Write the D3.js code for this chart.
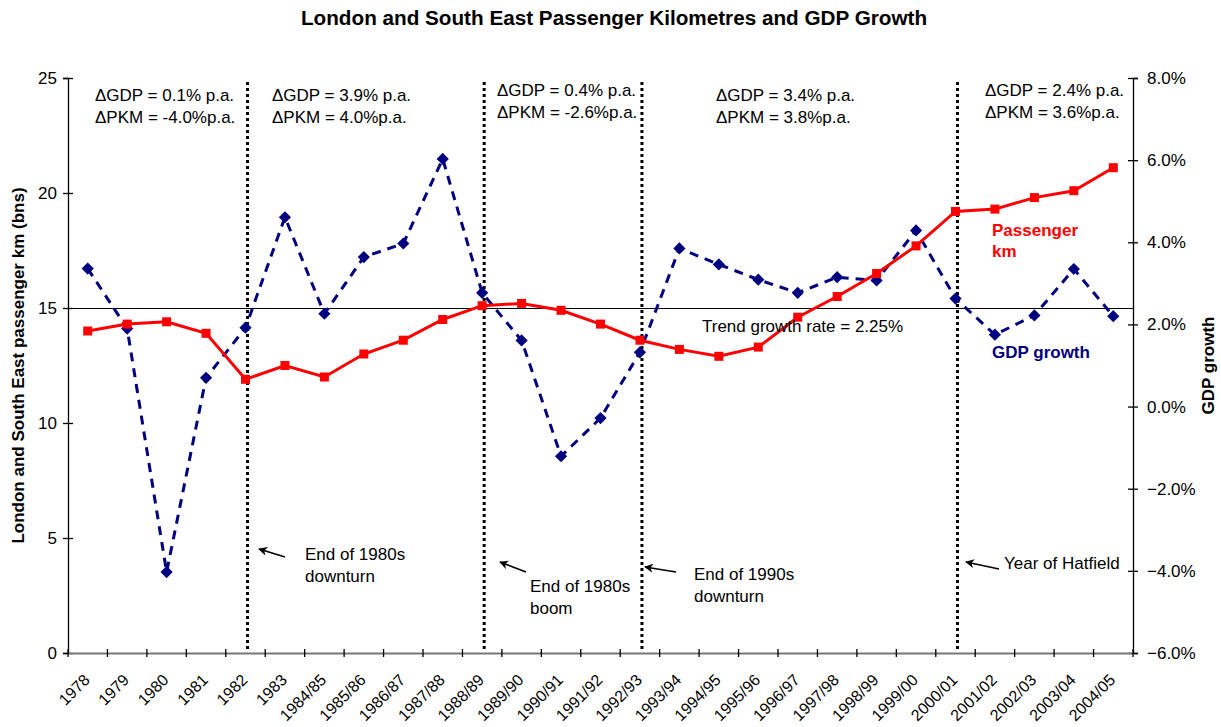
<!DOCTYPE html>
<html>
<head>
<meta charset="utf-8">
<script src="https://cdn.jsdelivr.net/npm/d3@7/dist/d3.min.js"></script>
<style>
  html, body { margin: 0; padding: 0; background: #fff; }
  svg { display: block; }
  text { font-family: "Liberation Sans", Arial, sans-serif; fill: #000; }
</style>
</head>
<body>
<svg id="chart" width="1221" height="727"></svg>
<script>
// ---- Data ----
const categories = ["1978","1979","1980","1981","1982","1983","1984/85","1985/86","1986/87","1987/88",
  "1988/89","1989/90","1990/91","1991/92","1992/93","1993/94","1994/95","1995/96","1996/97","1997/98",
  "1998/99","1999/00","2000/01","2001/02","2002/03","2003/04","2004/05"];
const passengerKm = [14.0,14.3,14.4,13.9,11.9,12.5,12.0,13.0,13.6,14.5,15.1,15.2,14.9,14.3,13.6,13.2,12.9,13.3,14.6,15.5,16.5,17.7,19.2,19.3,19.8,20.1,21.1];
const gdpGrowth = [3.36,1.90,-4.03,0.70,1.92,4.61,2.26,3.64,3.97,6.03,2.77,1.61,-1.21,-0.28,1.32,3.85,3.46,3.09,2.77,3.15,3.07,4.29,2.63,1.75,2.22,3.35,2.20];
const leftTicks = [0,5,10,15,20,25];
const rightTicks = [-6,-4,-2,0,2,4,6,8];
const trendLevel = 15;
const eventCategories = ["1982","1988/89","1992/93","2000/01"];
const periodNotes = [
  ["ΔGDP = 0.1% p.a.", "ΔPKM = -4.0%p.a."],
  ["ΔGDP = 3.9% p.a.", "ΔPKM = 4.0%p.a."],
  ["ΔGDP = 0.4% p.a.", "ΔPKM = -2.6%p.a."],
  ["ΔGDP = 3.4% p.a.", "ΔPKM = 3.8%p.a."],
  ["ΔGDP = 2.4% p.a.", "ΔPKM = 3.6%p.a."]
];
const eventNotes = [
  ["End of 1980s", "downturn"],
  ["End of 1980s", "boom"],
  ["End of 1990s", "downturn"],
  ["Year of Hatfield"]
];

// ---- Layout ----
const svg = d3.select("#chart");
const L = 68, R = 1133, T = 78, B = 653;
const FS = 17;

const x = d3.scaleBand().domain(categories).range([L, R]).padding(0);
const cx = c => x(c) + x.bandwidth() / 2;
const yL = d3.scaleLinear().domain([0, 25]).range([B, T]);
const yR = d3.scaleLinear().domain([-6, 8]).range([B, T]);

svg.append("defs").append("marker")
  .attr("id", "arrow").attr("viewBox", "0 0 10 10")
  .attr("refX", 9).attr("refY", 5)
  .attr("markerWidth", 9).attr("markerHeight", 9)
  .attr("markerUnits", "userSpaceOnUse")
  .attr("orient", "auto")
  .append("path").attr("d", "M0,0 L10,5 L0,10 L3,5 Z").attr("fill", "#000");

// Title
svg.append("text").attr("x", 614).attr("y", 25).attr("text-anchor", "middle")
  .attr("font-size", 20.7).attr("font-weight", "bold")
  .text("London and South East Passenger Kilometres and GDP Growth");

// Trend line
svg.append("line").attr("x1", L).attr("x2", R)
  .attr("y1", yL(trendLevel)).attr("y2", yL(trendLevel))
  .attr("stroke", "#000").attr("stroke-width", 1)
  .attr("shape-rendering", "crispEdges");

// Event vertical dotted lines
svg.append("g").selectAll("line").data(eventCategories).join("line")
  .attr("x1", d => cx(d) + 2).attr("x2", d => cx(d) + 2)
  .attr("y1", 82).attr("y2", 651)
  .attr("stroke", "#000").attr("stroke-width", 3)
  .attr("stroke-dasharray", "3,3");

// Axes
const axL = svg.append("g").attr("transform", `translate(${L},0)`)
  .call(d3.axisLeft(yL).tickValues(leftTicks).tickSize(5).tickFormat(d3.format("d")));
const axR = svg.append("g").attr("transform", `translate(${R},0)`)
  .call(d3.axisRight(yR).tickValues(rightTicks).tickSize(5).tickFormat(d => d3.format(".1f")(d) + "%"));
const axB = svg.append("g").attr("transform", `translate(0,${B})`)
  .call(d3.axisBottom(x).tickSize(0).tickFormat(""));

[axL, axR].forEach(a => {
  a.select(".domain").attr("stroke", "#000").attr("stroke-width", 1.3);
  a.selectAll(".tick line").attr("stroke", "#000").attr("stroke-width", 1.3);
  a.selectAll("text").attr("font-size", FS).attr("fill", "#000")
    .attr("font-family", "Liberation Sans, Arial, sans-serif");
});
axL.selectAll(".tick line").attr("x1", 5).attr("x2", -5);
axL.selectAll(".tick text").attr("x", -11);
axR.selectAll(".tick line").attr("x1", -5).attr("x2", 5);
axR.selectAll(".tick text").attr("x", 14);

axB.select(".domain").attr("stroke", "#777").attr("stroke-width", 2);
// category boundary ticks
const bounds = categories.map(c => x(c)).concat([R]);
axB.append("g").selectAll("line").data(bounds).join("line")
  .attr("x1", d => d).attr("x2", d => d).attr("y1", -4).attr("y2", 4)
  .attr("stroke", "#000").attr("stroke-width", 1.3);
// category labels
axB.append("g").selectAll("text").data(categories).join("text")
  .attr("transform", d => `translate(${cx(d) + 3},28) rotate(-45)`)
  .attr("text-anchor", "end").attr("font-size", 16)
  .text(d => d);

// Axis titles
svg.append("text").attr("transform", `translate(24,${(T + B) / 2}) rotate(-90)`)
  .attr("text-anchor", "middle").attr("font-size", FS).attr("font-weight", "bold")
  .text("London and South East passenger km (bns)");
svg.append("text").attr("transform", `translate(1214,${(T + B) / 2}) rotate(-90)`)
  .attr("text-anchor", "middle").attr("font-size", FS).attr("font-weight", "bold")
  .text("GDP growth");

// GDP series (navy dashed, diamonds)
const gdpData = categories.map((c, i) => ({ c, v: gdpGrowth[i] }));
svg.append("path").datum(gdpData)
  .attr("d", d3.line().x(d => cx(d.c)).y(d => yR(d.v)))
  .attr("fill", "none").attr("stroke", "#000080").attr("stroke-width", 3)
  .attr("stroke-dasharray", "9,7");
svg.append("g").selectAll("path").data(gdpData).join("path")
  .attr("transform", d => `translate(${cx(d.c)},${yR(d.v)})`)
  .attr("d", d3.symbol().type(d3.symbolDiamond2).size(95))
  .attr("fill", "#000080");

// Passenger km series (red, squares)
const pkmData = categories.map((c, i) => ({ c, v: passengerKm[i] }));
svg.append("path").datum(pkmData)
  .attr("d", d3.line().x(d => cx(d.c)).y(d => yL(d.v)))
  .attr("fill", "none").attr("stroke", "#FF0000").attr("stroke-width", 3);
svg.append("g").selectAll("rect").data(pkmData).join("rect")
  .attr("x", d => cx(d.c) - 4.5).attr("y", d => yL(d.v) - 4.5)
  .attr("width", 9).attr("height", 9).attr("fill", "#FF0000");

// Series labels
const pk = svg.append("text").attr("font-size", FS).attr("font-weight", "bold").style("fill", "#FF0000");
pk.append("tspan").attr("x", 992).attr("y", 236).text("Passenger");
pk.append("tspan").attr("x", 992).attr("y", 257).text("km");
svg.append("text").attr("x", 992).attr("y", 358).attr("font-size", FS).attr("font-weight", "bold")
  .style("fill", "#000080").text("GDP growth");
svg.append("text").attr("x", 702).attr("y", 332).attr("font-size", FS)
  .text("Trend growth rate = 2.25%");

// Period notes
const notePos = [[95, 101], [272, 101], [497, 96], [716, 101], [985, 96]];
periodNotes.forEach((lines, i) => {
  const t = svg.append("text").attr("font-size", FS);
  lines.forEach((s, j) => t.append("tspan").attr("x", notePos[i][0]).attr("y", notePos[i][1] + j * 21.5).text(s));
});

// Event notes with arrows
const evPos = [[305, 560], [530, 592], [694, 580], [1004, 569]];
const arrows = [[285, 557, 259, 549], [526, 572, 500, 562], [676, 572, 645, 567], [999, 569, 966, 562]];
eventNotes.forEach((lines, i) => {
  const t = svg.append("text").attr("font-size", FS);
  lines.forEach((s, j) => t.append("tspan").attr("x", evPos[i][0]).attr("y", evPos[i][1] + j * 22).text(s));
  const a = arrows[i];
  svg.append("line").attr("x1", a[0]).attr("y1", a[1]).attr("x2", a[2]).attr("y2", a[3])
    .attr("stroke", "#000").attr("stroke-width", 1.5).attr("marker-end", "url(#arrow)");
});
</script>
</body>
</html>
